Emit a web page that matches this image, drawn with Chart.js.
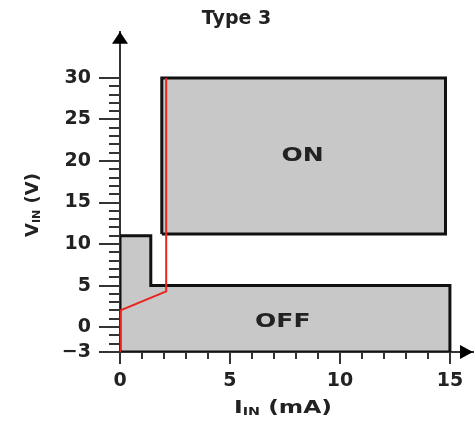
<!DOCTYPE html>
<html>
<head>
<meta charset="utf-8">
<script src="https://cdn.jsdelivr.net/npm/chart.js@4.4.0/dist/chart.umd.min.js"></script>
<style>
  html, body { margin: 0; padding: 0; background: #fff; }
  #wrap { width: 475px; height: 422px; }
</style>
</head>
<body>
<div id="wrap"><canvas id="typeChart"></canvas></div>
<script>
// tick labels
const xTicks = [0, 5, 10, 15];
const yTicks = [-3, 0, 5, 10, 15, 20, 25, 30];

// OFF region outline (I in mA, V in volts)
const offX = [0, 0, 1.4, 1.4, 15, 15, 0];
const offY = [-3, 11, 11, 5, 5, -3, -3];

// ON region outline
const onX = [1.9, 1.9, 14.8, 14.8, 1.9];
const onY = [11.2, 30, 30, 11.2, 11.2];

// red input curve
const curveX = [0, 0, 2.1, 2.1];
const curveY = [-3, 2, 4.3, 30];

const FONT = "'DejaVu Sans', 'Liberation Sans', Arial, sans-serif";
const TEXT = '#222';

const toPoints = (xs, ys) => xs.map((x, i) => ({ x: x, y: ys[i] }));

// draws text made of parts (for subscripts), centred on cx
function drawParts(ctx, parts, cx, cy, sx) {
    let total = 0;
    parts.forEach(p => {
        ctx.font = 'bold ' + p.size + 'px ' + FONT;
        p.w = ctx.measureText(p.t).width;
        total += p.w;
    });
    ctx.save();
    ctx.translate(cx, cy);
    ctx.scale(sx, 1);
    let x = -total / 2;
    ctx.fillStyle = TEXT;
    ctx.textBaseline = 'middle';
    ctx.textAlign = 'left';
    parts.forEach(p => {
        ctx.font = 'bold ' + p.size + 'px ' + FONT;
        ctx.fillText(p.t, x, p.dy || 0);
        x += p.w;
    });
    ctx.restore();
}

const extras = {
    id: 'extras',
    afterDraw(chart) {
        const ctx = chart.ctx;
        const xs = chart.scales.x, ys = chart.scales.y;
        const a = chart.chartArea;
        ctx.save();

        // minor ticks every 1 mA / 1 V
        ctx.strokeStyle = '#333';
        ctx.lineWidth = 2;
        ctx.beginPath();
        for (let v = 1; v < 15; v++) {
            if (v % 5 === 0) continue;
            const px = Math.round(xs.getPixelForValue(v));
            ctx.moveTo(px, a.bottom);
            ctx.lineTo(px, a.bottom + 7);
        }
        for (let v = -2; v < 30; v++) {
            if (v % 5 === 0) continue;
            const py = Math.round(ys.getPixelForValue(v));
            ctx.moveTo(a.left - 11, py);
            ctx.lineTo(a.left, py);
        }
        ctx.stroke();

        // arrow heads
        ctx.fillStyle = '#000';
        ctx.beginPath();
        ctx.moveTo(a.left, a.top);
        ctx.lineTo(a.left - 8, a.top + 12);
        ctx.lineTo(a.left + 8, a.top + 12);
        ctx.closePath();
        ctx.fill();
        ctx.beginPath();
        ctx.moveTo(a.right, a.bottom);
        ctx.lineTo(a.right - 13, a.bottom - 7);
        ctx.lineTo(a.right - 13, a.bottom + 7);
        ctx.closePath();
        ctx.fill();

        // region labels
        drawParts(ctx, [{ t: 'ON', size: 20 }], xs.getPixelForValue(8.3), ys.getPixelForValue(20.6), 1.25);
        drawParts(ctx, [{ t: 'OFF', size: 20 }], xs.getPixelForValue(7.4), ys.getPixelForValue(0.6), 1.25);

        // axis titles
        drawParts(ctx, [{ t: 'I', size: 18 }, { t: 'IN', size: 11, dy: 4 }, { t: ' (mA)', size: 18 }], 283, 408, 1.3);
        ctx.save();
        ctx.translate(33, 205);
        ctx.rotate(-Math.PI / 2);
        drawParts(ctx, [{ t: 'V', size: 18 }, { t: 'IN', size: 11, dy: 4 }, { t: ' (V)', size: 18 }], 0, 0, 1.0);
        ctx.restore();

        ctx.restore();
    }
};

new Chart('typeChart', {
    type: 'line',
    data: {
        datasets: [
            {
                label: 'curve',
                data: toPoints(curveX, curveY),
                borderColor: '#e8251f',
                borderWidth: 2,
                pointRadius: 0,
                fill: false,
                order: 0
            },
            {
                label: 'ON',
                data: toPoints(onX, onY),
                borderColor: '#111',
                borderWidth: 3,
                backgroundColor: '#c8c8c8',
                fill: 'shape',
                pointRadius: 0,
                order: 1
            },
            {
                label: 'OFF',
                data: toPoints(offX, offY),
                borderColor: '#111',
                borderWidth: 3,
                backgroundColor: '#c8c8c8',
                fill: 'shape',
                pointRadius: 0,
                order: 2
            }
        ]
    },
    options: {
        responsive: true,
        maintainAspectRatio: false,
        animation: false,
        layout: { padding: { left: 0, right: 2, top: 0, bottom: 0 } },
        elements: { line: { tension: 0, borderJoinStyle: 'miter' } },
        plugins: {
            legend: { display: false },
            tooltip: { enabled: false },
            title: {
                display: true,
                text: 'Type 3',
                color: TEXT,
                font: { family: FONT, size: 19, weight: 'bold' },
                padding: { top: 8, bottom: 1 }
            }
        },
        scales: {
            x: {
                type: 'linear',
                min: 0,
                max: 16.05,
                afterBuildTicks: s => { s.ticks = xTicks.map(v => ({ value: v })); },
                afterFit: s => { s.height = 70; },
                grid: { drawOnChartArea: false, color: '#333', lineWidth: 2, tickLength: 12 },
                border: { color: '#333', width: 2 },
                ticks: {
                    color: TEXT,
                    font: { family: FONT, size: 19, weight: 'bold' },
                    padding: 6,
                    autoSkip: false,
                    maxRotation: 0
                }
            },
            y: {
                min: -3,
                max: 35.56,
                afterBuildTicks: s => { s.ticks = yTicks.map(v => ({ value: v })); },
                afterFit: s => { s.width = 120; },
                grid: { drawOnChartArea: false, color: '#333', lineWidth: 2, tickLength: 21 },
                border: { color: '#333', width: 2 },
                ticks: {
                    color: TEXT,
                    font: { family: FONT, size: 19, weight: 'bold' },
                    padding: 8,
                    autoSkip: false,
                    callback: v => (v < 0 ? '\u2212' + Math.abs(v) : String(v))
                }
            }
        }
    },
    plugins: [extras]
});
</script>
</body>
</html>
